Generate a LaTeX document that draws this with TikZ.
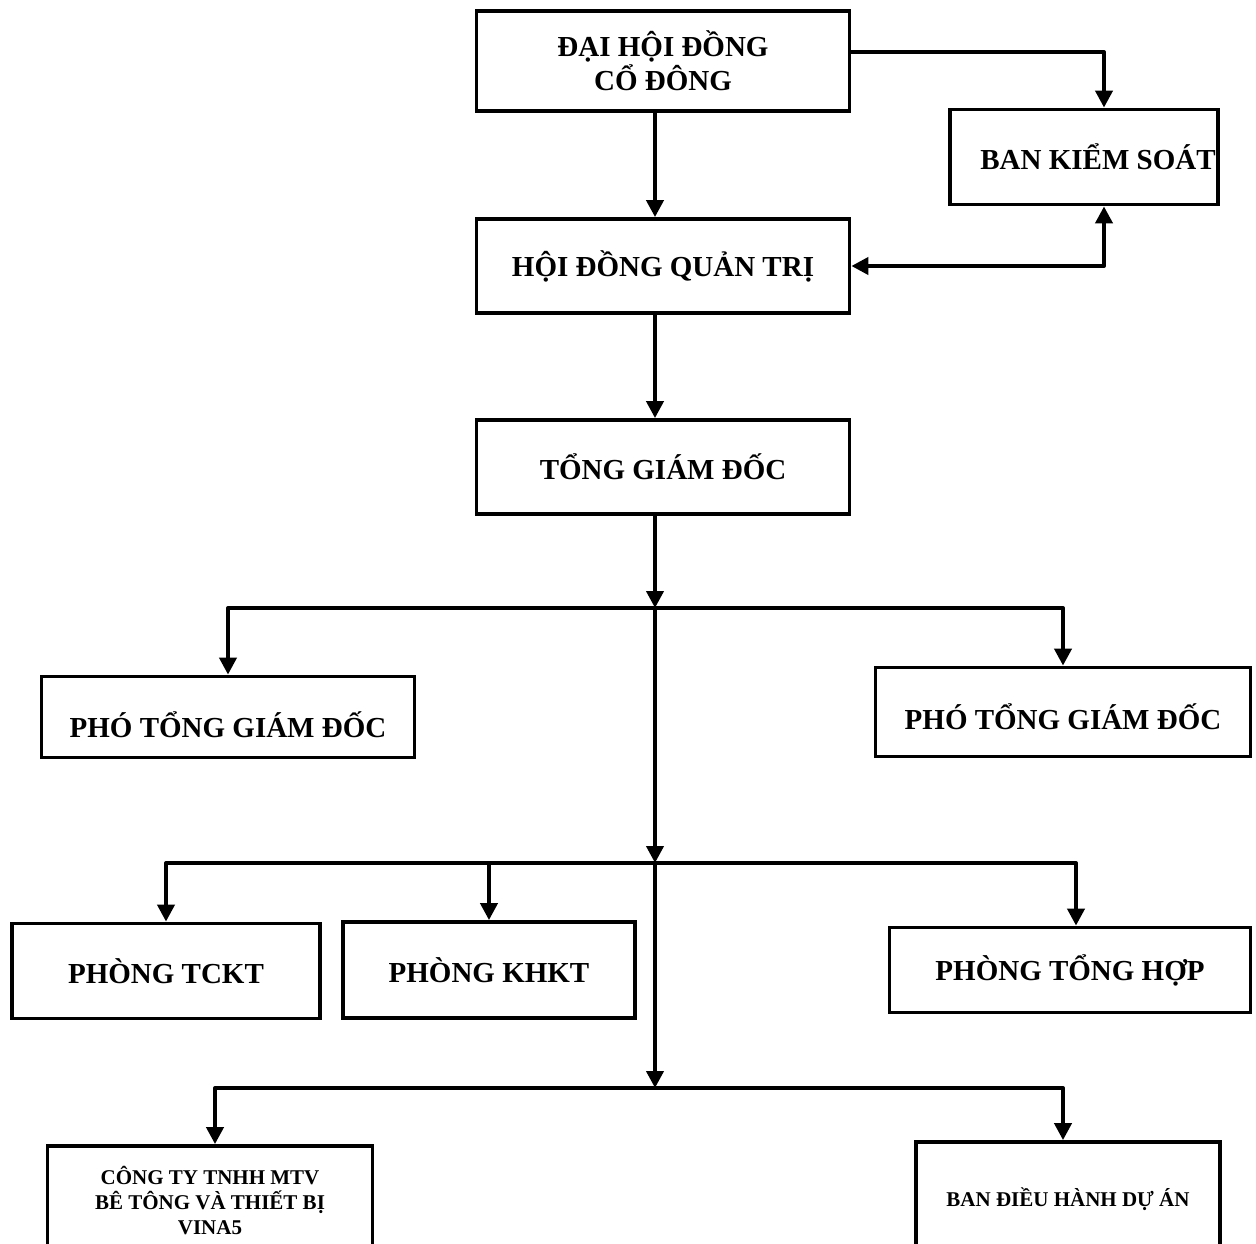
\documentclass[tikz,border=0pt]{standalone}
\usepackage{fontspec}
\setmainfont{Liberation Serif}
\usetikzlibrary{arrows.meta}
\tikzset{
	unitbox/.style={draw, line width=3.8pt, align=center, inner sep=2pt, font=\fontsize{29}{34}\selectfont\bfseries},
	smallbox/.style={unitbox, font=\fontsize{21}{25}\selectfont\bfseries},
	link/.style={line width=4pt, line join=round, -{Triangle[length=17pt,width=17pt]}},
	dlink/.style={link, {Triangle[length=17pt,width=17pt]}-{Triangle[length=17pt,width=17pt]}},
}
\begin{document}
\begin{tikzpicture}[x=1pt,y=-1pt]
		\clip (0,0) rectangle (1256,1244);
		\node[unitbox, minimum width=373pt, minimum height=100pt] (dhdcd) at (663,61) {ĐẠI HỘI ĐỒNG\\CỔ ĐÔNG};
		\node[unitbox, minimum width=267pt, minimum height=95pt] (bks) at (1084,157) {\hspace{28pt}BAN KIỂM SOÁT};
		\node[unitbox, minimum width=373pt, minimum height=94pt] (hdqt) at (663,266) {HỘI ĐỒNG QUẢN TRỊ};
		\node[unitbox, minimum width=373pt, minimum height=94pt] (tgd) at (663,467) {TỔNG GIÁM ĐỐC};
		\node[unitbox, minimum width=373pt, minimum height=81pt] (ptgd1) at (228,717) {\raisebox{-8pt}[\height][\depth]{PHÓ TỔNG GIÁM ĐỐC}};
		\node[unitbox, minimum width=375pt, minimum height=89pt] (ptgd2) at (1063,712) {\raisebox{-5pt}[\height][\depth]{PHÓ TỔNG GIÁM ĐỐC}};
		\node[unitbox, minimum width=308pt, minimum height=95pt] (tckt) at (166,971) {PHÒNG TCKT};
		\node[unitbox, minimum width=292pt, minimum height=96pt] (khkt) at (489,970) {PHÒNG KHKT};
		\node[unitbox, minimum width=361pt, minimum height=85pt] (tonghop) at (1070,970) {PHÒNG TỔNG HỢP};
		\node[smallbox, minimum width=325pt, minimum height=110pt] (congty) at (210,1201) {CÔNG TY TNHH MTV\\BÊ TÔNG VÀ THIẾT BỊ\\VINA5};
		\node[smallbox, minimum width=304pt, minimum height=114pt] (bdhda) at (1068,1199) {BAN ĐIỀU HÀNH DỰ ÁN};
		\coordinate (j1) at (655,608);
		\coordinate (j2) at (655,863);
		\coordinate (j3) at (655,1088);
		\draw[link] (dhdcd.south -| j1) -- (hdqt.north -| j1);
		\draw[link] (hdqt.south -| j1) -- (tgd.north -| j1);
		\draw[link] (tgd.south -| j1) -- (j1);
		\draw[link] (j1) -- (j2);
		\draw[link] (j2) -- (j3);
		\draw[link] ([yshift=9pt]dhdcd.east) -| ([xshift=20pt]bks.north);
		\draw[dlink] (hdqt.east) -| ([xshift=20pt]bks.south);
		\draw[link] (j1) -| (ptgd1.north);
		\draw[link] (j1) -| (ptgd2.north);
		\draw[link] (j2) -| (tckt.north);
		\draw[link] (j2) -| (khkt.north);
		\draw[link] (j2) -| ([xshift=6pt]tonghop.north);
		\draw[link] (j3) -| ([xshift=5pt]congty.north);
		\draw[link] (j3) -| ([xshift=-5pt]bdhda.north);
\end{tikzpicture}
\end{document}
